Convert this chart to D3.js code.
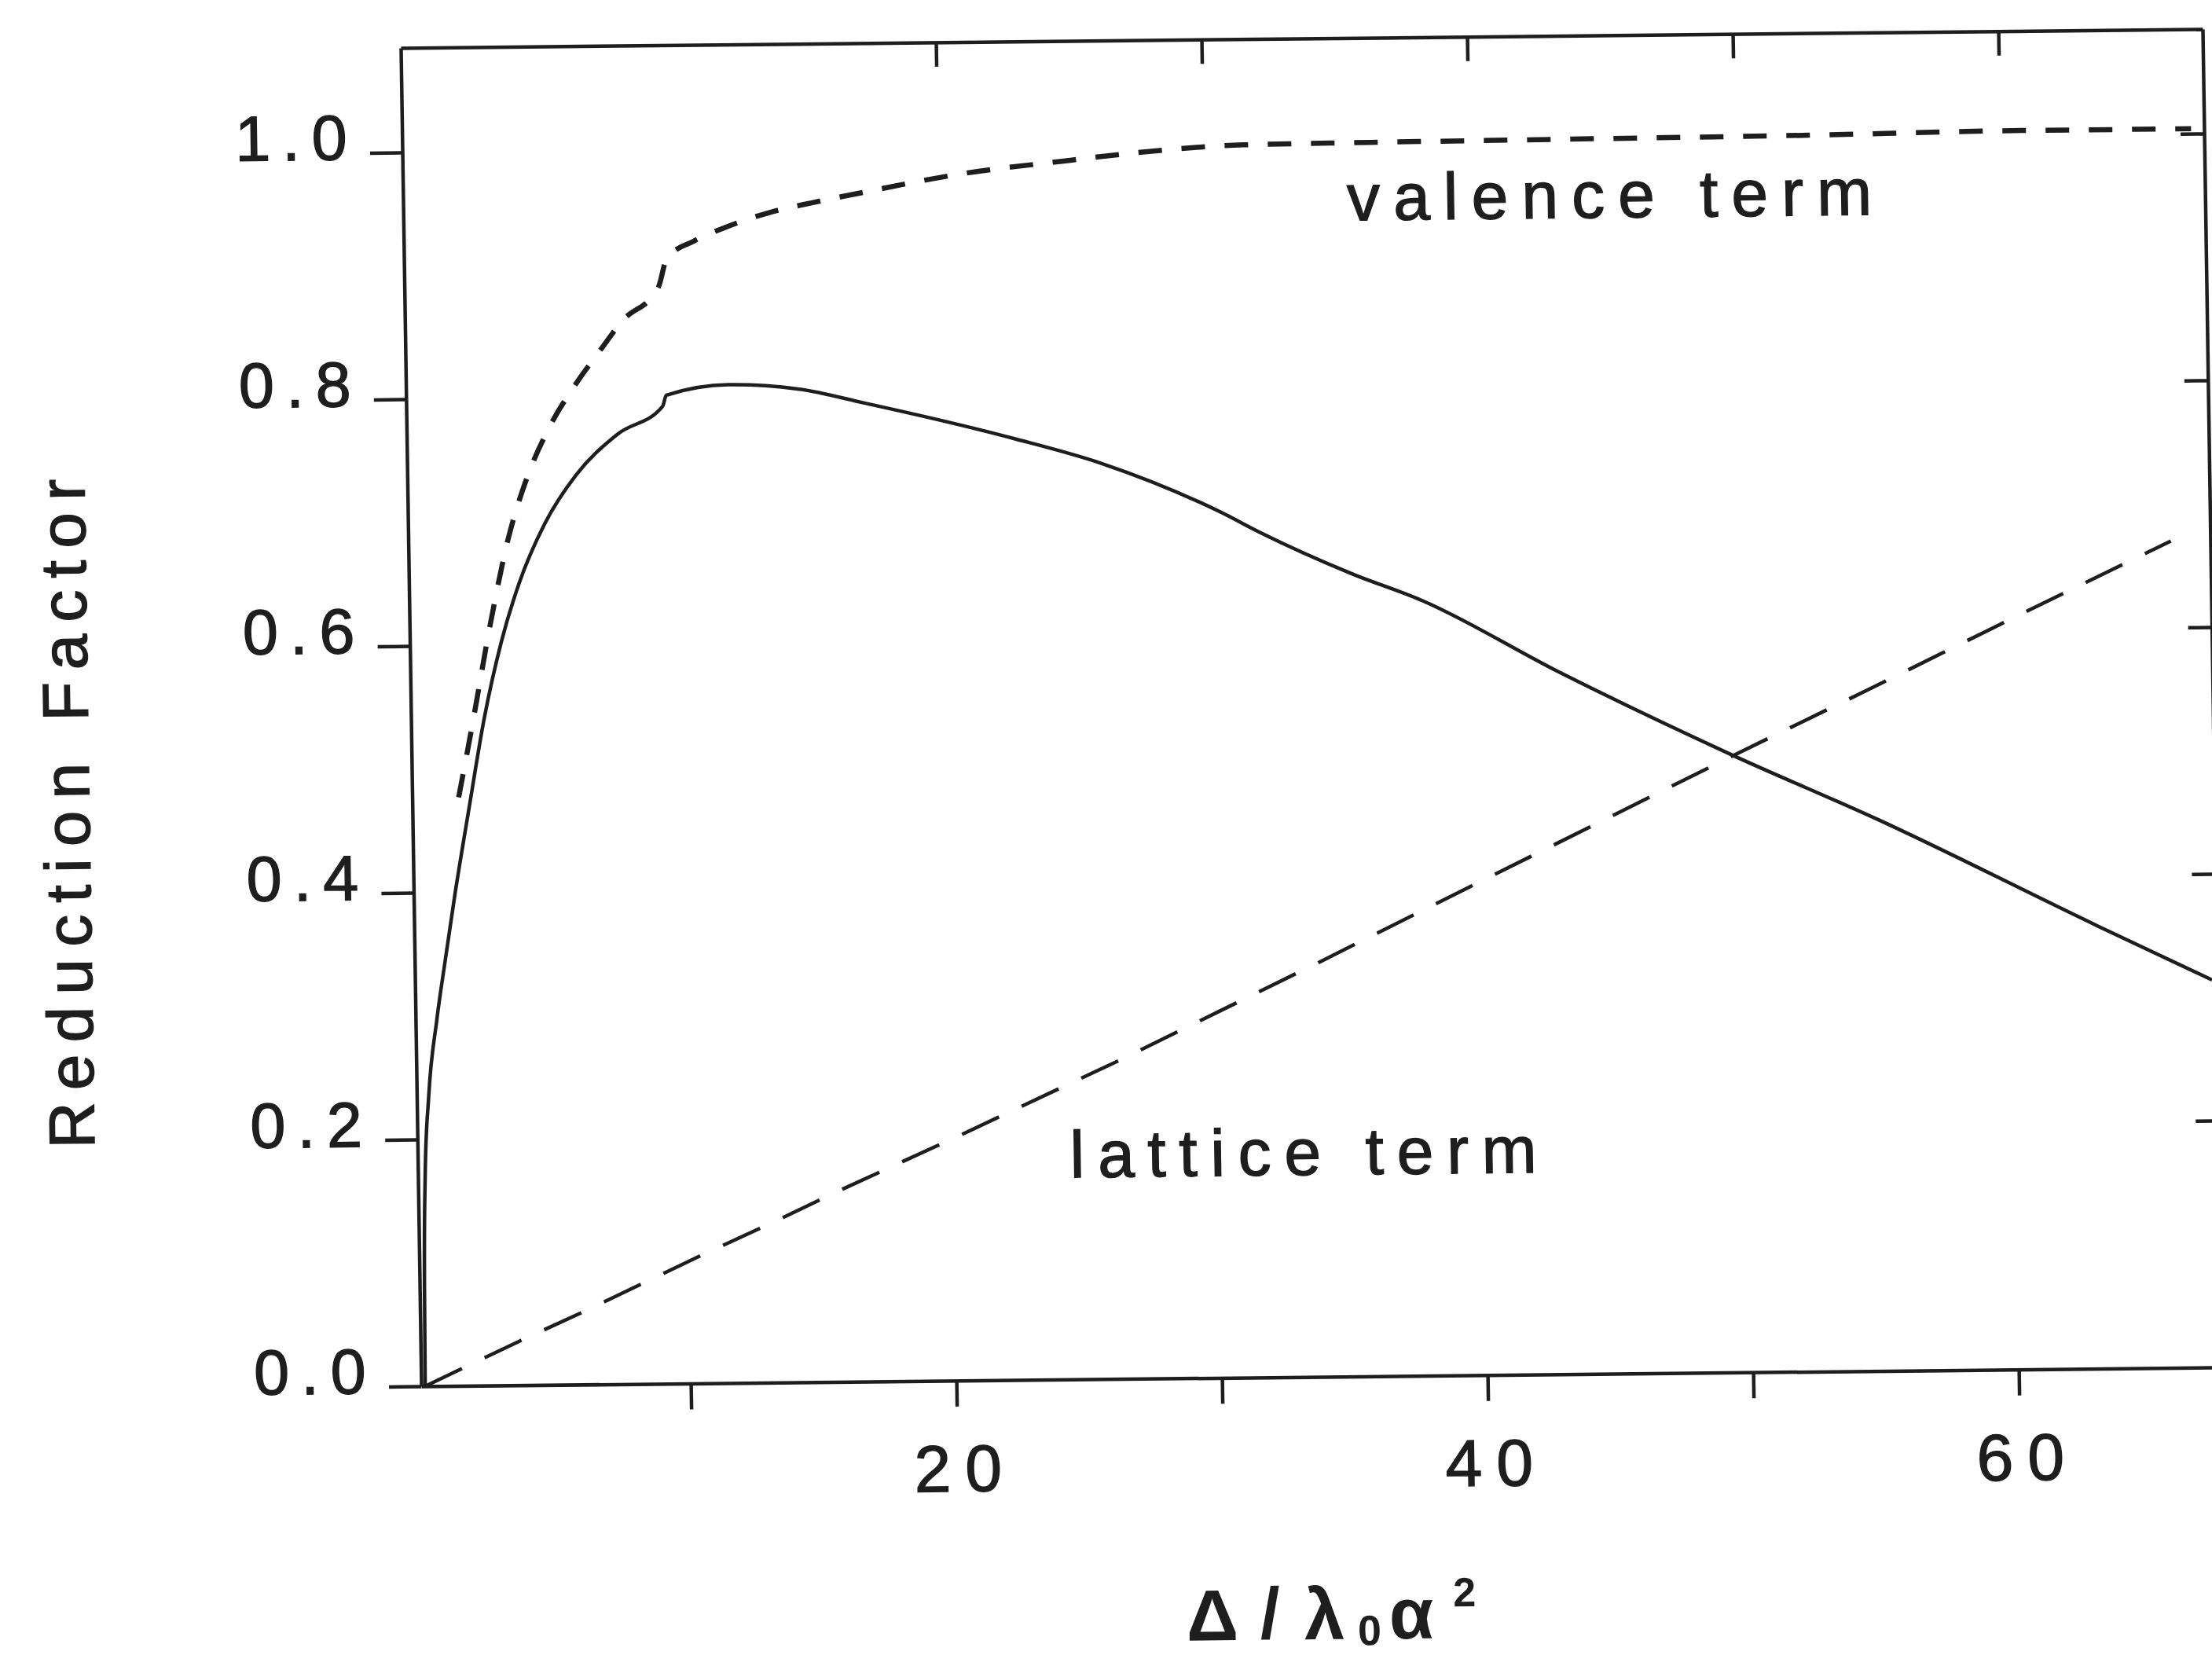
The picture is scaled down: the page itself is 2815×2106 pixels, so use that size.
<!DOCTYPE html>
<html>
<head>
<meta charset="utf-8">
<script src="https://cdn.jsdelivr.net/npm/d3@7"></script>
<style>
  html, body { margin: 0; padding: 0; background: #fff; }
  svg { display: block; }
  text { font-family: "Liberation Sans", Arial, sans-serif; fill: #1e1e1e; }
  .heavy { stroke: #1e1e1e; stroke-width: 1.4px; }
</style>
</head>
<body>
<svg id="chart" width="2815" height="2106"></svg>
<script>
// Reduction factor versus Δ/λ0α² : total (solid), valence and lattice terms (dashed)

const xTicksBottom = [10, 20, 30, 40, 50, 60];
const xTicksTop = [20, 30, 40, 50, 60];
const xTickLabels = [20, 40, 60];
const yTicksLeft = [0, 0.2, 0.4, 0.6, 0.8, 1.0];
const yTicksRight = [0.2, 0.4, 0.6, 0.8, 1.0];

const totalX = [0, 0.03, 0.12, 0.3, 0.65, 1.0, 1.4, 2.0, 2.6, 3.3, 4.0, 5.0, 6.2, 7.8, 9.5, 9.65, 12.0, 14.6, 17.1, 22.7, 26.0, 30.5, 31.9, 35.3, 38.0, 43.1, 49.6, 55.0, 63.2, 67.5];
const totalY = [0, 0.08, 0.17, 0.235, 0.297, 0.345, 0.398, 0.47, 0.54, 0.603, 0.65, 0.698, 0.737, 0.77, 0.792, 0.801, 0.809, 0.805, 0.793, 0.763, 0.742, 0.701, 0.685, 0.651, 0.628, 0.569, 0.50, 0.447, 0.359, 0.314];

const valenceX = [1.6, 2.15, 2.9, 3.6, 4.35, 5.2, 6.25, 7.15, 8.05, 9.4, 9.75, 10.8, 11.9, 13.6, 15.3, 17.0, 20.9, 25.0, 27.2, 31.5, 36.8, 44.8, 52.8, 60.8, 67.2];
const valenceY = [0.477, 0.535, 0.618, 0.685, 0.735, 0.775, 0.811, 0.837, 0.862, 0.888, 0.912, 0.926, 0.936, 0.948, 0.956, 0.963, 0.978, 0.988, 0.993, 0.999, 1.0, 1.001, 1.002, 1.004, 1.004];

const latticeX = [0, 1.3, 3.6, 6.0, 8.3, 10.4, 13.3, 15.6, 20.3, 26.3, 30.2, 33.9, 40.4, 45.0, 49.8, 55.0, 60.5, 66.2];
const latticeY = [0, 0.013, 0.036, 0.059, 0.082, 0.103, 0.131, 0.154, 0.199, 0.258, 0.298, 0.336, 0.404, 0.452, 0.502, 0.555, 0.612, 0.67];

// frame geometry
const frameLeft = 523, frameRight = 2816, frameTop = 49, frameBottom = 1752;
const ink = "#1e1e1e";

const svg = d3.select("#chart");
// the printed figure sits slightly skewed on the page
const g = svg.append("g").attr("transform", "matrix(1,-0.0105,0.0153,1,-13.77,17.51)");

const x = d3.scaleLinear().domain([-0.15, -0.15 + (frameRight - frameLeft) / 33.8]).range([frameLeft, frameRight]);
const y = d3.scaleLinear().domain([0, (frameBottom - frameTop) / 1570]).range([frameBottom, frameTop]);

function styleAxis(sel) {
  sel.select(".domain").attr("stroke", ink).attr("stroke-width", 4.5);
  sel.selectAll(".tick line").attr("stroke", ink).attr("stroke-width", 4.5);
}

// bottom axis
const gx = g.append("g").attr("transform", `translate(0,${frameBottom})`)
  .call(d3.axisBottom(x).tickValues(xTicksBottom).tickSize(33).tickSizeOuter(0)
    .tickFormat(d => xTickLabels.includes(d) ? d : ""));
styleAxis(gx);
gx.selectAll(".tick text")
  .attr("class", "heavy")
  .attr("y", 141).attr("dy", 0).attr("dx", 9)
  .style("font-size", "84px").style("letter-spacing", "18px");

// top frame
const gt = g.append("g").attr("transform", `translate(0,${frameTop})`)
  .call(d3.axisTop(x).tickValues(xTicksTop).tickSize(-31).tickSizeOuter(0).tickFormat(""));
styleAxis(gt);

// left axis
const gy = g.append("g").attr("transform", `translate(${frameLeft},0)`)
  .call(d3.axisLeft(y).tickValues(yTicksLeft).tickSize(41).tickSizeOuter(0)
    .tickFormat(d3.format(".1f")));
styleAxis(gy);
gy.selectAll(".tick text")
  .attr("class", "heavy")
  .attr("x", -55).attr("dy", 0).attr("y", 8)
  .style("font-size", "81px").style("letter-spacing", "15px");

// right frame
const gr = g.append("g").attr("transform", `translate(${frameRight},0)`)
  .call(d3.axisRight(y).tickValues(yTicksRight).tickSize(-30).tickSizeOuter(0).tickFormat(""));
styleAxis(gr);

// curves
const plot = g.append("g");
function draw(xs, ys, curve, dash, width) {
  const pts = xs.map((v, i) => [v, ys[i]]);
  plot.append("path")
    .datum(pts)
    .attr("fill", "none")
    .attr("stroke", ink)
    .attr("stroke-width", width)
    .attr("stroke-dasharray", dash)
    .attr("d", d3.line().x(d => x(d[0])).y(d => y(d[1])).curve(curve));
}
draw(totalX, totalY, d3.curveMonotoneX, null, 4.5);
draw(valenceX, valenceY, d3.curveMonotoneX, "30,25", 6.5);
draw(latticeX, latticeY, d3.curveLinear, "52,32", 4.5);

// curve labels
g.append("text").attr("class", "heavy").attr("x", 1724).attr("y", 281)
  .attr("textLength", 668).attr("lengthAdjust", "spacing")
  .style("font-size", "84px").text("valence term");
g.append("text").attr("class", "heavy").attr("x", 1353).attr("y", 1495)
  .attr("textLength", 594).attr("lengthAdjust", "spacing")
  .style("font-size", "84px").text("lattice term");

// axis titles
g.append("text").attr("class", "heavy")
  .attr("transform", "translate(112,1019) rotate(-90)")
  .attr("text-anchor", "middle")
  .attr("textLength", 852).attr("lengthAdjust", "spacing")
  .style("font-size", "82px").text("Reduction Factor");

const xt = g.append("text").style("font-size", "92px").style("font-weight", "bold");
xt.append("tspan").attr("x", 1492).attr("y", 2086).text("Δ");
xt.append("tspan").attr("x", 1586).attr("y", 2084).text("/");
xt.append("tspan").attr("x", 1642).attr("y", 2086).text("λ");
xt.append("tspan").attr("x", 1710).attr("y", 2094).style("font-size", "54px").text("0");
xt.append("tspan").attr("x", 1750).attr("y", 2086).text("α");
xt.append("tspan").attr("x", 1832).attr("y", 2046).style("font-size", "52px").text("2");
</script>
</body>
</html>
